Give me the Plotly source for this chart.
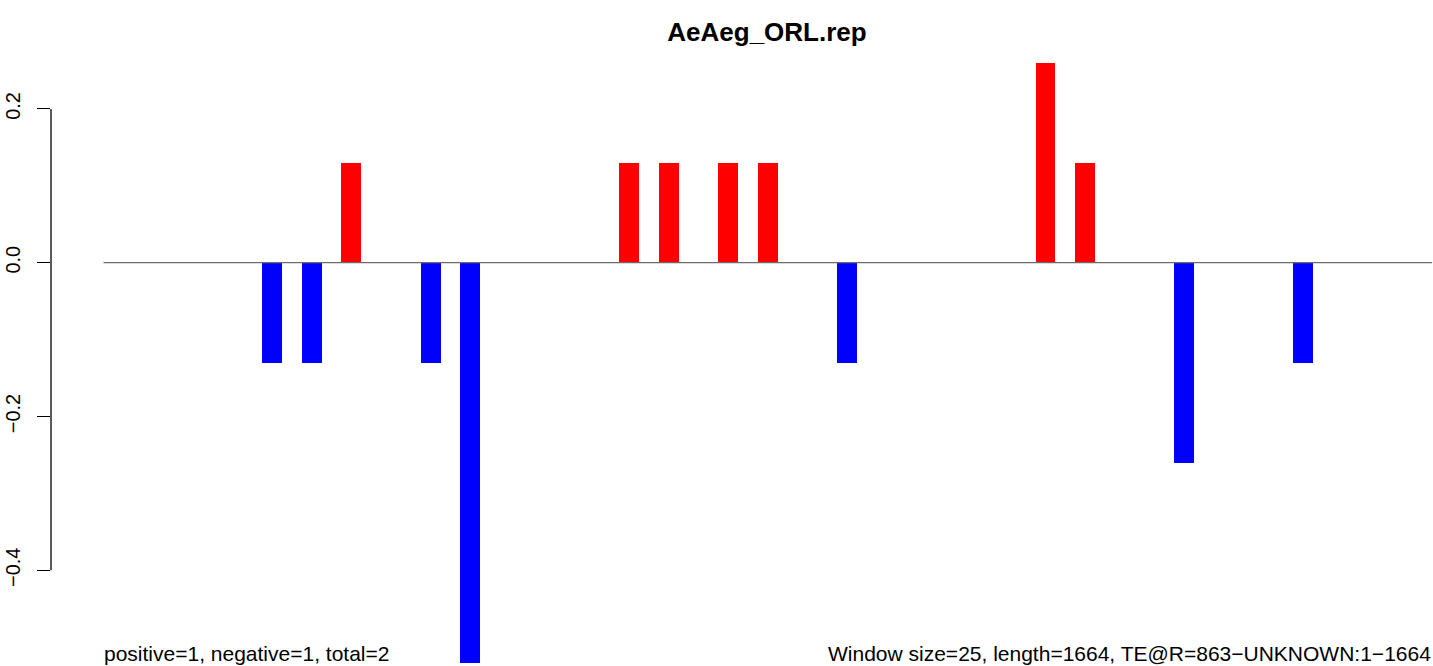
import plotly.graph_objects as go

# ---- data ----
window_size = 25
seq_length = 1664
n_windows = 67  # ceil(1664/25)
window_index = [8, 10, 12, 16, 18, 26, 28, 31, 33, 37, 47, 49, 54, 60]
values = [-0.13, -0.13, 0.13, -0.13, -0.52, 0.13, 0.13, 0.13, 0.13, -0.13, 0.26, 0.13, -0.26, -0.13]
y_ticks = [-0.4, -0.2, 0.0, 0.2]
y_tick_text = ["\u22120.4", "\u22120.2", "0.0", "0.2"]
title_text = "AeAeg_ORL.rep"
left_note = "positive=1, negative=1, total=2"
right_note = "Window size=25, length=1664, TE@R=863\u2212UNKNOWN:1\u22121664"

FONT = "Liberation Sans, Arial, Helvetica, sans-serif"
W, H = 1433, 666
ML = 51

centers = [k * window_size + window_size / 2 for k in window_index]
colors = ["red" if v > 0 else "blue" for v in values]

# pixel mapping: px = 103.5 + bp * (19.83/25)
scale = 19.83 / window_size
x0 = (ML - 103.5) / scale
x1 = (W - 103.5) / scale
y_top = 262.7 / 769.0
y_bot = -(H - 262.7) / 769.0

fig = go.Figure()
fig.add_trace(go.Scatter(
    x=[0, n_windows * window_size], y=[0, 0], mode="lines",
    line=dict(color="#6b6b6b", width=1.3), hoverinfo="skip", showlegend=False,
))
fig.add_trace(go.Bar(
    x=centers, y=values, width=window_size, marker=dict(color=colors, line=dict(width=0)),
    showlegend=False,
))

# y axis line only between outer ticks (R style)
fig.add_shape(type="line", xref="paper", yref="y", x0=0, x1=0,
              y0=min(y_ticks), y1=max(y_ticks), line=dict(color="black", width=1.3))

fig.update_layout(
    width=W, height=H,
    margin=dict(l=ML, r=0, t=0, b=0),
    paper_bgcolor="white", plot_bgcolor="white",
    font=dict(family=FONT, color="black"),
    bargap=0,
    xaxis=dict(range=[x0, x1], visible=False, fixedrange=True),
    yaxis=dict(range=[y_bot, y_top], showgrid=False, zeroline=False, showline=False,
               tickmode="array", tickvals=y_ticks, ticktext=y_tick_text,
               ticks="outside", ticklen=13, tickwidth=1.3, tickcolor="black",
               tickangle=-90, tickfont=dict(size=20, family=FONT, color="black"),
               ticklabelstandoff=9, automargin=False),
    title=dict(text="<b>" + title_text + "</b>", x=767 / W, xanchor="center",
               xref="container", y=1 - 32 / H, yanchor="middle", yref="container",
               font=dict(size=26, family=FONT, color="black")),
    annotations=[
        dict(text=left_note, xref="x", yref="paper", x=0, y=1 - 653 / H,
             xanchor="left", yanchor="middle", showarrow=False, xshift=-2,
             font=dict(size=21, family=FONT, color="black")),
        dict(text=right_note, xref="paper", yref="paper", x=(1430 - ML) / (W - ML), y=1 - 653 / H,
             xanchor="right", yanchor="middle", showarrow=False, xshift=3,
             font=dict(size=21, family=FONT, color="black")),
    ],
)

fig.write_html("out.html", config={"displayModeBar": False},
               post_script="document.body.style.margin='0px';document.body.style.overflow='hidden';")
